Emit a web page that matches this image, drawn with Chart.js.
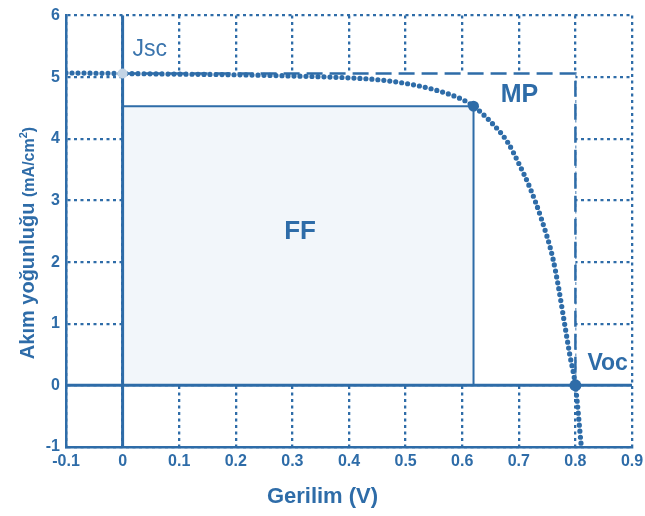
<!DOCTYPE html>
<html>
<head>
<meta charset="utf-8">
<script src="https://cdn.jsdelivr.net/npm/chart.js@4.4.1/dist/chart.umd.min.js"></script>
<style>
    html, body { margin: 0; padding: 0; background: #fff; }
    #wrap { width: 645px; height: 516px; }
</style>
</head>
<body>
<div id="wrap"><canvas id="ivChart" width="645" height="516"></canvas></div>
<script>
const BLUE = "#2e6ca8";
const FONT = "'Liberation Sans', Arial, sans-serif";

// I-V curve
const voltage = [-0.1, 0, 0.1, 0.2, 0.3, 0.4, 0.45, 0.5, 0.55, 0.6, 0.62, 0.65, 0.68, 0.7, 0.72, 0.74, 0.76, 0.77, 0.78, 0.79, 0.8, 0.81];
const current = [5.07, 5.06, 5.05, 5.04, 5.02, 4.99, 4.96, 4.9, 4.8, 4.64, 4.53, 4.28, 3.95, 3.6, 3.2, 2.7, 2.07, 1.6, 1.05, 0.5, 0.0, -0.95];

// key points
const JSC = 5.06;
const VOC = 0.8;
const VMP = 0.62;
const JMP = 4.53;

const xRange = [-0.1, 0.9];
const yRange = [-1, 6];

const curvePoints = voltage.map((v, i) => ({ x: v, y: current[i] }));

function setFont(ctx, size, weight) {
    ctx.font = `${weight} ${size}px ${FONT}`;
}

const ivDecor = {
    id: "ivDecor",
    beforeDatasetsDraw(chart) {
        const { ctx, scales: { x, y } } = chart;
        const x0 = x.getPixelForValue(0);
        const xv = x.getPixelForValue(VOC);
        const xm = x.getPixelForValue(VMP);
        const y0 = y.getPixelForValue(0);
        const yj = y.getPixelForValue(JSC);
        const ym = y.getPixelForValue(JMP);

        ctx.save();
        // blank inner region, no grid in it
        ctx.fillStyle = "#ffffff";
        ctx.fillRect(x0, yj, xv - x0, y0 - yj);
        // fill factor box
        ctx.fillStyle = "#f2f6fa";
        ctx.fillRect(x0, ym, xm - x0, y0 - ym);

        ctx.strokeStyle = BLUE;
        ctx.lineWidth = 2;
        ctx.beginPath();
        ctx.moveTo(x0, ym);
        ctx.lineTo(xm, ym);
        ctx.lineTo(xm, y0);
        ctx.stroke();

        // Jsc x Voc box
        ctx.setLineDash([16, 7]);
        ctx.lineWidth = 2.5;
        ctx.beginPath();
        ctx.moveTo(x0, yj);
        ctx.lineTo(xv, yj);
        ctx.lineTo(xv, y0);
        ctx.stroke();

        // zero axes
        ctx.setLineDash([]);
        ctx.lineWidth = 3;
        ctx.beginPath();
        ctx.moveTo(x.left, y0);
        ctx.lineTo(x.right, y0);
        ctx.moveTo(x0, y.top);
        ctx.lineTo(x0, y.bottom);
        ctx.stroke();
        ctx.restore();
    },
    afterDatasetsDraw(chart) {
        const { ctx, scales: { x, y } } = chart;
        const x0 = x.getPixelForValue(0);
        const xv = x.getPixelForValue(VOC);
        const xm = x.getPixelForValue(VMP);
        const y0 = y.getPixelForValue(0);
        const yj = y.getPixelForValue(JSC);
        const ym = y.getPixelForValue(JMP);

        ctx.save();
        ctx.textBaseline = "middle";

        setFont(ctx, 23, "normal");
        ctx.textAlign = "left";
        ctx.fillStyle = "#3a74ad";
        ctx.fillText("Jsc", x0 + 10, yj - 24);

        ctx.fillStyle = BLUE;
        setFont(ctx, 25, "bold");
        ctx.textAlign = "center";
        ctx.fillText("MP", xm + 46, ym - 11);

        setFont(ctx, 23, "bold");
        ctx.textAlign = "left";
        ctx.fillText("Voc", xv + 12, y0 - 22);

        setFont(ctx, 26, "bold");
        ctx.textAlign = "center";
        ctx.fillText("FF", x.getPixelForValue(VMP / 2) + 2, y.getPixelForValue(JMP / 2) - 14);

        // axis titles
        setFont(ctx, 22, "bold");
        ctx.fillText("Gerilim (V)", chart.width / 2, 497);

        const main = "Akım yoğunluğu ";
        const unit = "(mA/cm";
        setFont(ctx, 20, "bold");
        const wMain = ctx.measureText(main).width;
        setFont(ctx, 16, "bold");
        const wUnit = ctx.measureText(unit).width;
        setFont(ctx, 11, "bold");
        const wSup = ctx.measureText("2").width;
        setFont(ctx, 16, "bold");
        const wClose = ctx.measureText(")").width;
        const total = wMain + wUnit + wSup + wClose;

        ctx.translate(34, 243);
        ctx.rotate(-Math.PI / 2);
        ctx.textAlign = "left";
        ctx.textBaseline = "alphabetic";
        let pos = -total / 2;
        setFont(ctx, 20, "bold");
        ctx.fillText(main, pos, 0);
        pos += wMain;
        setFont(ctx, 16, "bold");
        ctx.fillText(unit, pos, 0);
        pos += wUnit;
        setFont(ctx, 11, "bold");
        ctx.fillText("2", pos, -7);
        pos += wSup;
        setFont(ctx, 16, "bold");
        ctx.fillText(")", pos, 0);
        ctx.restore();
    }
};

const tickFont = { family: FONT, size: 16, weight: "bold" };

new Chart(document.getElementById("ivChart"), {
    type: "scatter",
    data: {
        datasets: [
            {
                label: "Jsc",
                data: [{ x: 0, y: JSC }],
                pointRadius: 5,
                pointBackgroundColor: "#c3d4e5",
                pointBorderWidth: 0
            },
            {
                label: "MP",
                data: [{ x: VMP, y: JMP }],
                pointRadius: 5.5,
                pointBackgroundColor: BLUE,
                pointBorderWidth: 0
            },
            {
                label: "Voc",
                data: [{ x: VOC, y: 0 }],
                pointRadius: 6,
                pointBackgroundColor: BLUE,
                pointBorderWidth: 0
            },
            {
                label: "J-V",
                type: "line",
                data: curvePoints,
                showLine: true,
                borderColor: BLUE,
                borderWidth: 5.2,
                borderDash: [0, 6],
                borderCapStyle: "round",
                cubicInterpolationMode: "monotone",
                pointRadius: 0,
                fill: false
            }
        ]
    },
    options: {
        responsive: false,
        animation: false,
        devicePixelRatio: 1,
        events: [],
        layout: { padding: { top: 14, right: 0, left: 0, bottom: 0 } },
        plugins: {
            legend: { display: false },
            tooltip: { enabled: false }
        },
        scales: {
            x: {
                type: "linear",
                min: xRange[0],
                max: xRange[1],
                afterFit(scale) { scale.height = 69; scale.paddingRight = 13; },
                ticks: {
                    stepSize: 0.1,
                    color: BLUE,
                    font: tickFont,
                    padding: 5,
                    maxRotation: 0,
                    callback: (v) => String(Number(v.toFixed(1)))
                },
                grid: { color: BLUE, lineWidth: 2.3, drawTicks: false },
                border: { color: BLUE, width: 2.5, dash: [3, 3.5] }
            },
            y: {
                type: "linear",
                min: yRange[0],
                max: yRange[1],
                afterFit(scale) { scale.width = 66; },
                ticks: {
                    stepSize: 1,
                    color: BLUE,
                    font: tickFont,
                    padding: 6
                },
                grid: { color: BLUE, lineWidth: 2.3, drawTicks: false },
                border: { color: BLUE, width: 2.5, dash: [3, 3.5] }
            }
        }
    },
    plugins: [ivDecor]
});
</script>
</body>
</html>
